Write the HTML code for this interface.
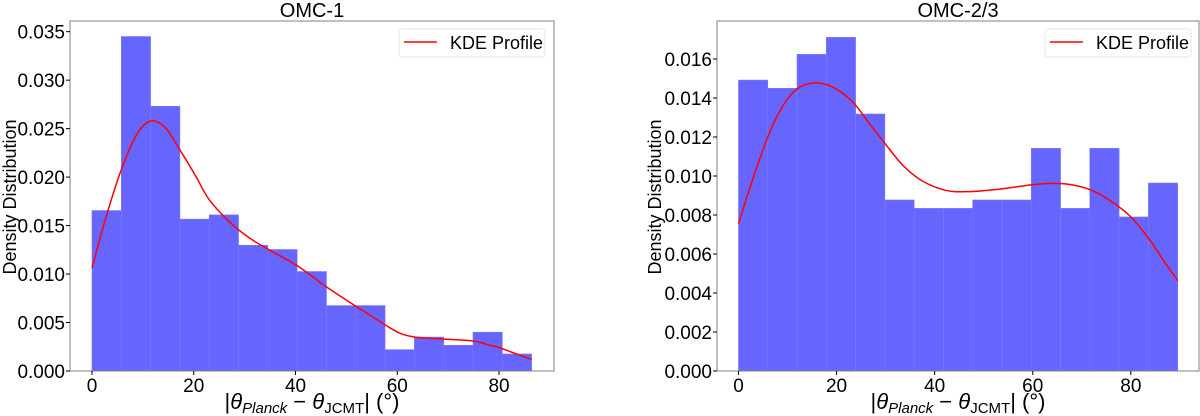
<!DOCTYPE html>
<html><head><meta charset="utf-8"><style>
html,body{margin:0;padding:0;background:#fff;}
svg{display:block;font-family:"Liberation Sans","DejaVu Sans",sans-serif;}
</style></head><body>
<svg id="fig" width="1200" height="416" viewBox="0 0 1200 416" xmlns="http://www.w3.org/2000/svg"></svg>
<script>
// ---- Data: OMC-1 ----
const omc1BinStart = 0;
const omc1BinWidth = 5.76;
const omc1Heights = [0.01655,0.0345,0.0273,0.01566,0.0161,0.01297,0.01253,0.01026,0.00675,0.00675,0.0022,0.0035,0.00265,0.0040,0.00176];
const omc1KdeX = [0,3,6,9,11.7,14.4,17.4,20.4,23,27.2,31,34.8,40.5,46,51.8,57.5,60.5,63.5,68.8,74.9,77.9,80.1,83.2,86.4];
const omc1KdeY = [0.01063,0.0163,0.0211,0.02457,0.0258,0.0251,0.0227,0.0201,0.0177,0.0153,0.0137,0.0125,0.0108,0.0087,0.0067,0.0048,0.0039,0.0035,0.0033,0.0031,0.0027,0.0024,0.0018,0.0012];
const omc1YTicks = [0,0.005,0.010,0.015,0.020,0.025,0.030,0.035];
const omc1YLabels = ["0.000","0.005","0.010","0.015","0.020","0.025","0.030","0.035"];
// ---- Data: OMC-2/3 ----
const omc23BinStart = 0;
const omc23BinWidth = 5.97;
const omc23Heights = [0.01492,0.0145,0.01624,0.01711,0.01318,0.00877,0.00834,0.00834,0.00877,0.00877,0.01142,0.00834,0.01142,0.0079,0.00964];
const omc23KdeX = [0,3.1,6.3,9.4,12.5,16.1,19.6,23.5,26.6,29.8,33.7,37.6,42.3,47,53.3,59.5,64.2,68.2,72.1,76,79.9,83.8,87,89.6];
const omc23KdeY = [0.00756,0.00998,0.0122,0.01374,0.01456,0.01477,0.01451,0.01374,0.01272,0.01169,0.0105,0.00973,0.00926,0.0092,0.00933,0.00954,0.00962,0.00954,0.00926,0.0087,0.00793,0.00674,0.00554,0.00463];
const omc23YTicks = [0,0.002,0.004,0.006,0.008,0.010,0.012,0.014,0.016];
const omc23YLabels = ["0.000","0.002","0.004","0.006","0.008","0.010","0.012","0.014","0.016"];
const xTicks = [0,20,40,60,80];
const xTickLabels = ["0","20","40","60","80"];

const NS = "http://www.w3.org/2000/svg";
const svg = document.getElementById('fig');
function mk(tag, attrs, parent){
  const e = document.createElementNS(NS, tag);
  for (const k in attrs) e.setAttribute(k, attrs[k]);
  (parent||svg).appendChild(e); return e;
}
function smoothPath(pts){
  let d = 'M' + pts[0][0].toFixed(2) + ',' + pts[0][1].toFixed(2);
  for (let i=0;i<pts.length-1;i++){
    const p0 = pts[Math.max(0,i-1)], p1 = pts[i], p2 = pts[i+1], p3 = pts[Math.min(pts.length-1,i+2)];
    const c1x = p1[0] + (p2[0]-p0[0])/6, c1y = p1[1] + (p2[1]-p0[1])/6;
    const c2x = p2[0] - (p3[0]-p1[0])/6, c2y = p2[1] - (p3[1]-p1[1])/6;
    d += ` C${c1x.toFixed(2)},${c1y.toFixed(2)} ${c2x.toFixed(2)},${c2y.toFixed(2)} ${p2[0].toFixed(2)},${p2[1].toFixed(2)}`;
  }
  return d;
}

function panel(cfg){
  const g = mk('g', {});
  
  
  const L=cfg.left, R=cfg.right, T=21, B=371;
  const xs = v => L + (v - cfg.xmin)/(cfg.xmax-cfg.xmin)*(R-L);
  const ys = v => B - v/cfg.ymax*(B-T);
  cfg.heights.forEach((h,i)=>{
    const x0 = xs(cfg.binStart + i*cfg.binWidth), x1 = xs(cfg.binStart+(i+1)*cfg.binWidth);
    const r = mk('rect', {x:x0, y:ys(h), width:x1-x0, height:B-ys(h), fill:'#6666ff', stroke:'#7a7aff', 'stroke-width':0.6}, g);
    
    
  });
  const pts = cfg.kx.map((x,i)=>[xs(x), ys(cfg.ky[i])]);
  const p = mk('path', {d:smoothPath(pts), fill:'none', stroke:'#ff0000', 'stroke-width':1.5, 'stroke-linejoin':'round'}, g);
  
  
  const f = mk('rect', {x:L, y:T, width:R-L, height:B-T, fill:'none', stroke:'#808080', 'stroke-width':1}, g);
  
  
  cfg.yt.forEach((v,i)=>{
    const y = ys(v);
    mk('line', {x1:L-4, x2:L, y1:y, y2:y, stroke:'#000', 'stroke-width':1}, g);
    const t = mk('text', {x:L-5, y:y+7, 'text-anchor':'end', 'font-size':19, fill:'#000'}, g);
    t.textContent = cfg.yl[i];
    
    
  });
  xTicks.forEach((v,i)=>{
    const x = xs(v);
    mk('line', {x1:x, x2:x, y1:B, y2:B+4, stroke:'#000', 'stroke-width':1}, g);
    const t = mk('text', {x:x, y:B+21, 'text-anchor':'middle', 'font-size':19, fill:'#000'}, g);
    t.textContent = xTickLabels[i];
    
    
  });
  const tt = mk('text', {x:(L+R)/2, y:17, 'text-anchor':'middle', 'font-size':20, fill:'#000'}, g);
  tt.textContent = cfg.title;
  
  
  const yl = mk('text', {x:0, y:0, transform:`translate(${cfg.ylabX},197) rotate(-90)`, 'text-anchor':'middle', 'font-size':18, fill:'#000'}, g);
  yl.textContent = 'Density Distribution';
  
  
  const xl = mk('text', {x:(L+R)/2, y:409, 'text-anchor':'middle', 'font-size':22, fill:'#000'}, g);
  xl.innerHTML = '|<tspan font-style="italic">θ</tspan><tspan font-size="15" dy="4" font-style="italic">Planck</tspan><tspan dy="-4"> − </tspan><tspan font-style="italic">θ</tspan><tspan font-size="15" dy="4">JCMT</tspan><tspan dy="-4">| (°)</tspan>';
  
  
  const lg = mk('g', {}, g);
  
  
  mk('rect', {x:cfg.legX, y:29, width:146, height:28, rx:3, fill:'#fff', stroke:'#e6e6e6', 'stroke-width':1}, lg);
  mk('line', {x1:cfg.legX+5, x2:cfg.legX+38, y1:42, y2:42, stroke:'#ff0000', 'stroke-width':1.5}, lg);
  const lt = mk('text', {x:cfg.legX+51, y:49, 'font-size':18, fill:'#000'}, lg);
  lt.textContent = 'KDE Profile';
  
  
}

panel({name:'omc1-panel', title:'OMC-1', left:70, right:554, xmin:-4.32, xmax:90.8, ymax:0.0361,
  binStart:omc1BinStart, binWidth:omc1BinWidth, heights:omc1Heights, kx:omc1KdeX, ky:omc1KdeY,
  yt:omc1YTicks, yl:omc1YLabels, ylabX:16, legX:399});
panel({name:'omc23-panel', title:'OMC-2/3', left:717, right:1199, xmin:-4.38, xmax:93.9, ymax:0.01795,
  binStart:omc23BinStart, binWidth:omc23BinWidth, heights:omc23Heights, kx:omc23KdeX, ky:omc23KdeY,
  yt:omc23YTicks, yl:omc23YLabels, ylabX:661, legX:1045});
</script>
</body></html>
